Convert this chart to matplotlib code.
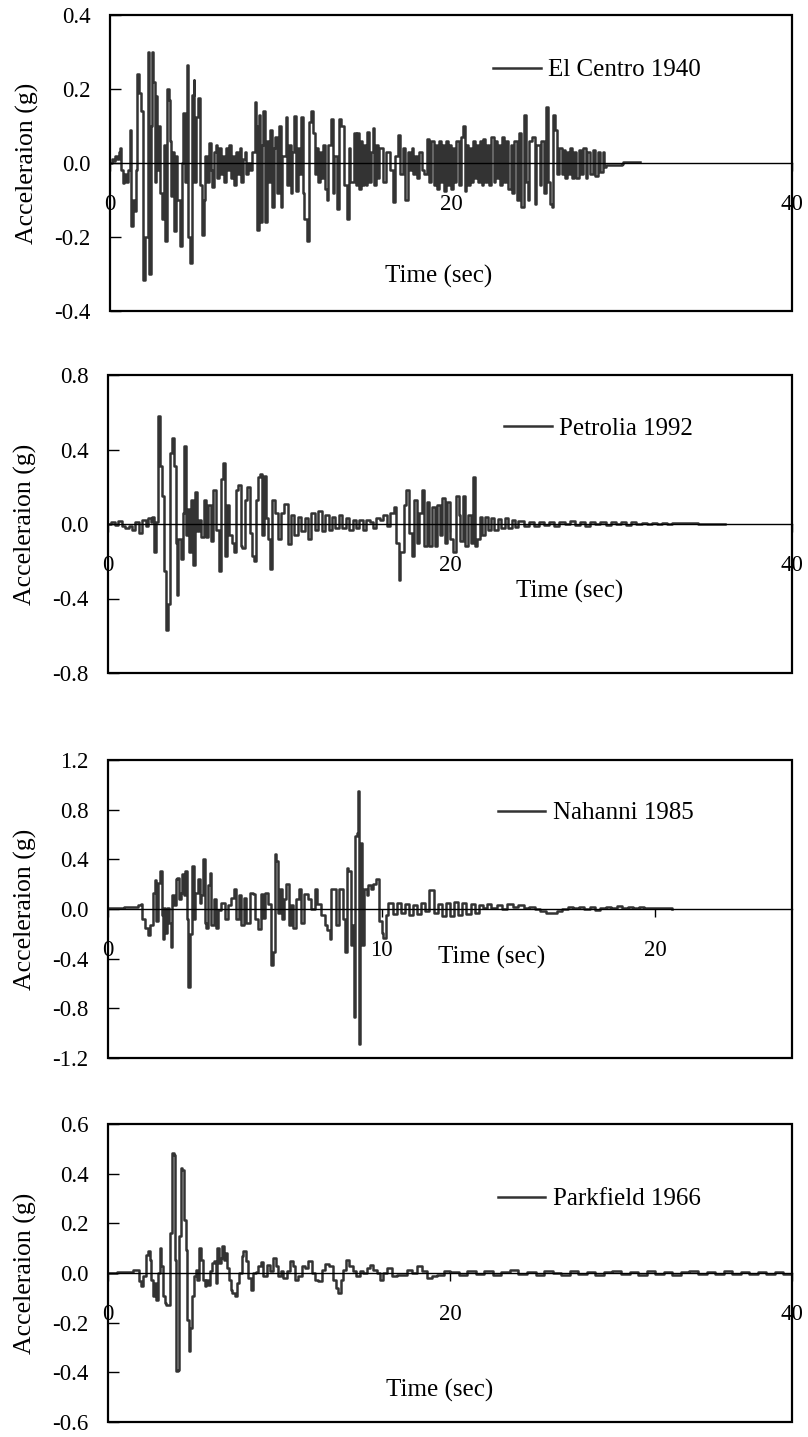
import matplotlib
matplotlib.use('Agg')
import matplotlib.pyplot as plt
from matplotlib.patches import Rectangle

plt.rcParams['font.family'] = ['Liberation Serif', 'DejaVu Serif']

# ---------------- data ----------------
elc_t = [
 0.0, 0.1, 0.2, 0.3, 0.4, 0.5, 0.57, 0.65, 0.75, 0.85,
 0.95, 1.05, 1.15, 1.25, 1.35, 1.45, 1.52, 1.6, 1.7, 1.8,
 1.95, 2.05, 2.2, 2.3, 2.38, 2.45, 2.55, 2.62, 2.7, 2.78,
 2.85, 2.95, 3.05, 3.15, 3.25, 3.35, 3.45, 3.5, 3.6, 3.65,
 3.75, 3.85, 3.95, 4.1, 4.2, 4.3, 4.4, 4.5, 4.6, 4.7,
 4.8, 4.9, 4.95, 5.05, 5.15, 5.25, 5.4, 5.5, 5.6, 5.7,
 5.8, 5.9, 6.0, 6.1, 6.2, 6.3, 6.4, 6.5, 6.6, 6.7,
 6.8, 6.9, 7.0, 7.1, 7.2, 7.3, 7.4, 7.5, 7.6, 7.7,
 7.8, 7.9, 8.0, 8.1, 8.2, 8.3, 8.48, 8.55, 8.65, 8.72,
 8.8, 8.9, 9.0, 9.1, 9.2, 9.3, 9.4, 9.5, 9.6, 9.7,
 9.8, 9.9, 10.0, 10.1, 10.3, 10.4, 10.5, 10.6, 10.7, 10.8,
 10.9, 11.0, 11.1, 11.2, 11.3, 11.4, 11.55, 11.65, 11.8, 11.9,
 12.0, 12.1, 12.2, 12.3, 12.4, 12.5, 12.6, 12.7, 12.8, 12.95,
 13.05, 13.15, 13.3, 13.45, 13.55, 13.7, 13.9, 14.0, 14.1, 14.3,
 14.4, 14.5, 14.6, 14.7, 14.8, 14.9, 15.0, 15.1, 15.2, 15.3,
 15.4, 15.5, 15.6, 15.7, 15.8, 16.0, 16.2, 16.4, 16.6, 16.7,
 16.9, 17.0, 17.2, 17.3, 17.5, 17.6, 17.7, 17.8, 17.9, 18.0,
 18.1, 18.3, 18.4, 18.57, 18.7, 18.85, 19.0, 19.1, 19.2, 19.3,
 19.4, 19.5, 19.6, 19.7, 19.8, 19.9, 20.0, 20.1, 20.2, 20.3,
 20.45, 20.6, 20.7, 20.8, 20.9, 21.0, 21.1, 21.2, 21.3, 21.4,
 21.5, 21.6, 21.7, 21.8, 21.9, 22.0, 22.1, 22.2, 22.35, 22.5,
 22.6, 22.7, 22.8, 22.9, 23.0, 23.1, 23.2, 23.35, 23.5, 23.6,
 23.7, 23.85, 24.0, 24.1, 24.3, 24.4, 24.5, 24.6, 24.75, 24.9,
 25.0, 25.2, 25.3, 25.45, 25.6, 25.7, 25.8, 25.9, 26.0, 26.1,
 26.2, 26.35, 26.5, 26.6, 26.7, 26.8, 26.9, 27.0, 27.1, 27.2,
 27.35, 27.5, 27.6, 27.75, 27.9, 28.0, 28.15, 28.3, 28.45, 28.6,
 28.75, 28.9, 29.0, 29.1, 30.0, 30.1, 31.1]
elc_a = [
 0.0, 0.01, 0.005, 0.02, 0.01, 0.03, 0.04, -0.02, -0.055, -0.03,
 -0.05, -0.02, 0.09, -0.17, -0.10, -0.13, -0.02, 0.24, 0.19, 0.14,
 -0.315, -0.2, 0.30, -0.30, 0.10, 0.30, 0.22, -0.05, 0.18, -0.02,
 0.10, -0.08, -0.15, 0.05, -0.21, 0.20, 0.17, 0.06, -0.09, 0.03,
 -0.185, 0.02, -0.10, -0.225, 0.0, 0.135, -0.05, 0.265, -0.2, -0.27,
 0.185, 0.225, -0.05, 0.125, 0.175, -0.06, -0.195, -0.1, 0.02, -0.05,
 0.055, -0.02, -0.065, 0.03, 0.05, -0.04, 0.04, -0.03, 0.02, -0.05,
 0.04, -0.02, 0.05, -0.04, 0.02, -0.06, 0.03, -0.03, 0.04, -0.05,
 0.01, 0.03, -0.03, 0.0, -0.02, 0.03, 0.165, 0.10, -0.18, 0.13,
 -0.16, 0.05, 0.14, -0.16, 0.06, -0.05, 0.09, -0.12, 0.04, 0.07,
 -0.08, 0.10, -0.12, 0.02, 0.125, -0.06, 0.05, -0.08, 0.03, 0.126,
 -0.075, 0.04, -0.03, 0.125, -0.08, -0.15, -0.21, 0.11, 0.14, 0.08,
 -0.03, 0.04, -0.05, 0.03, -0.04, 0.05, -0.07, -0.10, 0.05, 0.12,
 -0.08, 0.02, -0.125, 0.12, 0.10, -0.06, -0.15, 0.04, -0.05, 0.08,
 -0.06, 0.08, -0.07, 0.06, -0.06, 0.05, -0.06, 0.085, -0.05, 0.03,
 0.095, -0.06, 0.05, -0.04, 0.04, -0.05, 0.03, -0.02, -0.105, 0.02,
 0.075, -0.03, 0.04, -0.1, 0.03, -0.02, 0.04, -0.03, 0.02, -0.04,
 0.03, -0.02, -0.03, 0.065, -0.05, 0.06, -0.06, 0.05, -0.07, 0.06,
 -0.05, 0.05, -0.075, 0.06, -0.06, 0.05, -0.07, 0.04, -0.05, 0.06,
 -0.06, 0.07, 0.10, -0.075, 0.05, -0.06, 0.04, -0.05, 0.06, -0.04,
 0.05, -0.05, 0.06, -0.06, 0.065, -0.05, 0.05, -0.06, 0.07, -0.05,
 0.06, -0.04, 0.05, -0.06, 0.07, -0.05, 0.06, -0.07, 0.05, -0.08,
 0.06, -0.10, 0.08, -0.12, 0.13, -0.05, -0.10, 0.06, 0.07, -0.11,
 0.05, -0.06, 0.06, -0.08, 0.15, -0.05, -0.11, -0.12, 0.13, 0.09,
 -0.03, 0.04, -0.03, 0.035, -0.04, 0.03, -0.03, 0.04, -0.04, 0.03,
 -0.04, 0.035, -0.03, 0.04, -0.04, 0.03, -0.03, 0.035, -0.035, 0.03,
 -0.025, 0.03, -0.01, -0.005, -0.004, 0.002, 0.002]

pet_t = [
 0.0, 0.2, 0.4, 0.6, 0.8, 1.0, 1.2, 1.4, 1.6, 1.8,
 2.0, 2.2, 2.35, 2.5, 2.6, 2.7, 2.8, 2.95, 3.05, 3.15,
 3.27, 3.41, 3.5, 3.6, 3.65, 3.75, 3.85, 3.95, 4.03, 4.12,
 4.25, 4.38, 4.47, 4.55, 4.65, 4.75, 4.85, 4.95, 5.1, 5.2,
 5.3, 5.45, 5.6, 5.75, 5.85, 6.05, 6.15, 6.3, 6.47, 6.58,
 6.73, 6.85, 6.97, 7.1, 7.25, 7.36, 7.5, 7.6, 7.75, 7.85,
 8.0, 8.15, 8.3, 8.42, 8.54, 8.65, 8.76, 8.9, 9.0, 9.12,
 9.25, 9.38, 9.5, 9.58, 9.75, 9.95, 10.1, 10.3, 10.5, 10.7,
 10.9, 11.1, 11.3, 11.5, 11.7, 11.9, 12.1, 12.3, 12.5, 12.7,
 12.9, 13.1, 13.3, 13.5, 13.7, 13.9, 14.1, 14.3, 14.5, 14.7,
 14.9, 15.1, 15.3, 15.5, 15.7, 15.9, 16.1, 16.3, 16.5, 16.7,
 16.85, 17.0, 17.1, 17.3, 17.45, 17.6, 17.75, 17.9, 18.05, 18.2,
 18.35, 18.5, 18.65, 18.8, 18.95, 19.1, 19.25, 19.4, 19.55, 19.7,
 19.85, 20.0, 20.2, 20.35, 20.5, 20.6, 20.75, 20.9, 21.05, 21.2,
 21.35, 21.45, 21.6, 21.75, 21.9, 22.05, 22.2, 22.4, 22.6, 22.8,
 23.0, 23.2, 23.4, 23.6, 23.8, 24.0, 24.3, 24.6, 24.9, 25.2,
 25.5, 25.8, 26.1, 26.4, 26.7, 27.0, 27.3, 27.6, 27.9, 28.2,
 28.5, 28.8, 29.1, 29.4, 29.7, 30.0, 30.3, 30.6, 30.9, 31.2,
 31.5, 31.8, 32.1, 32.4, 32.7, 33.0, 33.3, 33.6, 34.0, 34.5,
 35.0, 35.5, 36.1]
pet_a = [
 0.0, 0.01, -0.005, 0.015, -0.01, -0.02, -0.01, -0.03, 0.01, -0.05,
 0.02, -0.01, 0.03, 0.01, 0.04, -0.15, 0.01, 0.58, 0.31, 0.15,
 -0.25, -0.57, -0.43, 0.08, 0.38, 0.46, 0.31, -0.1, -0.38, -0.08,
 -0.19, 0.06, 0.42, -0.06, 0.08, -0.15, 0.13, -0.22, 0.17, -0.04,
 0.02, -0.07, 0.13, -0.07, 0.1, -0.09, 0.18, -0.03, -0.25, 0.24,
 0.33, -0.17, 0.1, -0.06, -0.1, -0.15, 0.18, 0.21, -0.12, -0.13,
 0.13, 0.2, -0.05, -0.17, -0.2, 0.13, 0.25, 0.27, -0.06, 0.26,
 0.03, -0.08, -0.24, 0.13, 0.06, -0.08, 0.06, 0.11, -0.11, 0.05,
 -0.06, 0.04, -0.04, 0.03, -0.08, 0.06, -0.03, 0.07, -0.04, 0.05,
 -0.03, 0.04, -0.02, 0.05, -0.02, 0.03, -0.03, 0.02, -0.02, 0.02,
 -0.03, 0.02, 0.01, -0.02, 0.03, 0.02, 0.05, -0.01, 0.06, 0.09,
 -0.1, -0.3, -0.15, 0.1, 0.185, -0.05, -0.17, 0.13, -0.1, 0.06,
 0.185, -0.12, 0.12, -0.12, 0.09, -0.12, 0.1, -0.06, 0.14, -0.1,
 0.12, -0.08, -0.15, 0.15, 0.05, -0.09, 0.15, -0.12, 0.05, -0.1,
 0.255, -0.12, -0.08, 0.04, -0.06, 0.04, -0.03, 0.03, -0.03, 0.025,
 -0.02, 0.03, -0.02, 0.02, -0.015, 0.015, -0.01, 0.01, -0.01, 0.01,
 -0.005, 0.01, -0.01, 0.01, 0.0, 0.015, -0.005, 0.01, -0.01, 0.012,
 0.0, 0.01, -0.005, 0.012, 0.0, 0.01, -0.005, 0.01, 0.0, 0.008,
 0.0, 0.006, 0.002, 0.006, 0.002, 0.005, 0.003, 0.005, 0.003, 0.002,
 0.002, 0.001, 0.001]

nah_t = [
 0.0, 0.3, 0.6, 0.9, 1.1, 1.2, 1.25, 1.35, 1.45, 1.55,
 1.64, 1.7, 1.76, 1.82, 1.9, 1.96, 2.0, 2.05, 2.1, 2.17,
 2.23, 2.29, 2.35, 2.41, 2.47, 2.53, 2.6, 2.65, 2.7, 2.76,
 2.82, 2.88, 2.94, 3.0, 3.06, 3.14, 3.19, 3.29, 3.36, 3.41,
 3.47, 3.53, 3.6, 3.66, 3.72, 3.78, 3.87, 3.96, 4.02, 4.14,
 4.26, 4.38, 4.5, 4.6, 4.69, 4.78, 4.87, 4.97, 5.06, 5.18,
 5.3, 5.38, 5.48, 5.58, 5.66, 5.75, 5.85, 5.94, 6.02, 6.09,
 6.15, 6.21, 6.27, 6.36, 6.45, 6.51, 6.61, 6.7, 6.76, 6.88,
 6.98, 7.06, 7.18, 7.3, 7.43, 7.55, 7.65, 7.79, 7.92, 8.02,
 8.1, 8.16, 8.26, 8.34, 8.44, 8.53, 8.59, 8.65, 8.72, 8.79,
 8.87, 8.93, 8.98, 9.04, 9.09, 9.13, 9.16, 9.2, 9.24, 9.3,
 9.36, 9.45, 9.51, 9.6, 9.7, 9.8, 9.9, 10.0, 10.05, 10.15,
 10.25, 10.4, 10.55, 10.7, 10.85, 11.0, 11.15, 11.3, 11.45, 11.6,
 11.75, 11.9, 12.05, 12.2, 12.35, 12.5, 12.65, 12.8, 12.95, 13.1,
 13.25, 13.4, 13.55, 13.7, 13.85, 14.0, 14.2, 14.4, 14.6, 14.8,
 15.0, 15.2, 15.4, 15.6, 15.8, 16.0, 16.2, 16.4, 16.6, 16.8,
 17.0, 17.2, 17.4, 17.6, 17.8, 18.0, 18.2, 18.4, 18.6, 18.8,
 19.0, 19.2, 19.4, 19.6, 19.8, 20.0, 20.3, 20.6]
nah_a = [
 0.005, 0.01, 0.015, 0.02, 0.035, 0.04, -0.08, -0.15, -0.21, -0.13,
 0.13, 0.23, -0.1, 0.21, 0.31, -0.05, -0.24, 0.01, -0.19, 0.01,
 -0.11, -0.31, 0.11, 0.03, 0.24, 0.25, 0.08, 0.13, 0.28, 0.11,
 0.31, -0.08, -0.63, -0.2, 0.35, -0.08, 0.13, 0.24, 0.05, 0.11,
 0.4, -0.11, -0.15, 0.19, 0.29, -0.13, 0.08, -0.15, -0.01, 0.05,
 -0.08, 0.03, 0.09, 0.16, -0.08, 0.11, -0.13, 0.09, -0.11, 0.13,
 0.12, -0.08, -0.16, 0.12, -0.07, 0.13, 0.04, -0.45, -0.35, 0.44,
 0.39, -0.03, 0.16, -0.08, 0.08, 0.2, -0.13, 0.03, -0.15, 0.08,
 0.16, -0.11, 0.12, 0.08, 0.0, 0.16, 0.04, -0.05, -0.13, -0.17,
 -0.24, 0.16, 0.16, -0.13, 0.16, 0.16, -0.08, -0.35, 0.33, 0.31,
 -0.29, -0.13, -0.87, 0.59, 0.61, 0.95, -1.09, -0.07, 0.53, -0.29,
 0.16, 0.11, 0.19, 0.16, 0.2, 0.24, -0.1, -0.19, -0.23, -0.05,
 0.05, -0.04, 0.05, -0.03, 0.04, -0.05, 0.03, -0.04, 0.05, -0.02,
 0.15, -0.03, 0.04, -0.06, 0.05, -0.06, 0.06, -0.05, 0.05, -0.04,
 0.04, -0.03, 0.03, 0.01, 0.04, 0.01, 0.03, 0.0, 0.04, 0.02,
 0.03, 0.01, 0.02, 0.0, -0.02, -0.03, -0.035, -0.02, 0.0, 0.015,
 0.005, 0.02, 0.0, 0.015, -0.005, 0.01, 0.02, 0.01, 0.025, 0.01,
 0.02, 0.005, 0.015, 0.01, 0.005, 0.01, 0.005, 0.003]

pk_t = [
 0.0, 0.5, 1.0, 1.47, 1.82, 1.95, 2.05, 2.21, 2.34, 2.44,
 2.54, 2.64, 2.73, 2.83, 2.93, 3.03, 3.12, 3.22, 3.32, 3.42,
 3.61, 3.65, 3.73, 3.85, 3.92, 4.0, 4.1, 4.16, 4.24, 4.35,
 4.43, 4.55, 4.63, 4.72, 4.82, 4.9, 5.02, 5.12, 5.21, 5.31,
 5.41, 5.53, 5.66, 5.76, 5.86, 5.95, 6.09, 6.19, 6.29, 6.38,
 6.48, 6.58, 6.66, 6.77, 6.87, 6.97, 7.09, 7.18, 7.28, 7.42,
 7.52, 7.67, 7.81, 7.91, 8.06, 8.2, 8.34, 8.49, 8.65, 8.78,
 8.92, 9.08, 9.27, 9.47, 9.66, 9.82, 9.96, 10.09, 10.25, 10.44,
 10.64, 10.79, 10.93, 11.13, 11.32, 11.52, 11.71, 11.91, 12.1, 12.3,
 12.49, 12.69, 12.94, 13.18, 13.33, 13.47, 13.6, 13.76, 13.92, 14.11,
 14.31, 14.5, 14.74, 14.93, 15.13, 15.32, 15.52, 15.71, 15.91, 16.1,
 16.3, 16.59, 16.88, 17.18, 17.47, 17.76, 18.06, 18.35, 18.64, 18.93,
 19.23, 19.62, 20.0, 20.5, 21.0, 21.5, 22.0, 22.5, 23.0, 23.5,
 24.0, 24.5, 25.0, 25.5, 26.0, 26.5, 27.0, 27.5, 28.0, 28.5,
 29.0, 29.5, 30.0, 30.5, 31.0, 31.5, 32.0, 32.5, 33.0, 33.5,
 34.0, 34.5, 35.0, 35.5, 36.0, 36.5, 37.0, 37.5, 38.0, 38.5,
 39.0, 39.5, 40.0]
pk_a = [
 0.0, 0.003, 0.005, 0.013, -0.034, -0.054, -0.013, 0.074, 0.087, 0.054,
 -0.027, -0.094, -0.04, -0.107, 0.0, 0.1, 0.027, -0.094, -0.12, -0.128,
 -0.125, 0.161, 0.483, 0.477, 0.054, -0.396, -0.389, 0.148, 0.423, 0.416,
 0.215, 0.094, -0.188, -0.315, -0.221, -0.094, -0.013, 0.013, -0.027, 0.1,
 0.054, -0.027, -0.054, -0.027, -0.047, 0.007, 0.04, 0.047, -0.04, 0.1,
 0.04, 0.06, 0.107, 0.054, 0.08, 0.02, -0.027, -0.067, -0.08, -0.094,
 -0.04, 0.0, 0.067, 0.087, 0.047, -0.02, -0.067, 0.0, 0.005, 0.027,
 0.043, -0.013, 0.034, 0.007, 0.06, 0.027, -0.013, 0.007, -0.02, 0.007,
 0.047, 0.027, -0.027, -0.013, 0.027, 0.02, 0.047, 0.0, -0.027, -0.034,
 0.013, 0.036, 0.027, -0.027, -0.06, -0.08, -0.027, 0.013, 0.054, 0.027,
 0.007, -0.013, 0.007, 0.0, 0.02, 0.034, 0.013, 0.0, -0.027, 0.0,
 0.02, -0.013, -0.007, -0.007, 0.013, 0.0, 0.027, 0.007, -0.02, -0.013,
 -0.007, 0.007, 0.005, -0.01, 0.008, -0.005, 0.01, -0.008, 0.005, 0.012,
 -0.006, 0.004, -0.01, 0.008, 0.002, -0.008, 0.01, -0.004, 0.006, -0.01,
 0.004, 0.008, -0.006, 0.005, -0.008, 0.01, -0.004, 0.006, -0.008, 0.004,
 0.008, -0.006, 0.005, -0.004, 0.008, -0.006, 0.004, -0.005, 0.006, -0.004,
 0.005, -0.003, 0.0]

labels = ['El Centro 1940', 'Petrolia 1992', 'Nahanni 1985', 'Parkfield 1966']
y_ticks = [[-0.4, -0.2, 0.0, 0.2, 0.4],
           [-0.8, -0.4, 0.0, 0.4, 0.8],
           [-1.2, -0.8, -0.4, 0.0, 0.4, 0.8, 1.2],
           [-0.6, -0.4, -0.2, 0.0, 0.2, 0.4, 0.6]]
x_ticks = [[0, 20, 40], [0, 20, 40], [0, 10, 20], [0, 20, 40]]
x_max = [40, 40, 25, 40]
series = [(elc_t, elc_a), (pet_t, pet_a), (nah_t, nah_a), (pk_t, pk_a)]

# ---------------- layout (pixels) ----------------
W, H = 808, 1437
boxes = [(110, 792, 15, 311), (108, 792, 375, 673),
         (108, 792, 760, 1058), (108, 792, 1124, 1422)]
legend_pos = [(0.562, 0.814), (0.579, 0.819), (0.570, 0.822), (0.570, 0.748)]
xlabel_pos = [(0.482, 0.118), (0.675, 0.272), (0.561, 0.336), (0.485, 0.107)]

fig = plt.figure(figsize=(W / 100, H / 100), dpi=100)

for i in range(4):
    l, r, t, b = boxes[i]
    ax = fig.add_axes([l / W, 1 - b / H, (r - l) / W, (b - t) / H])
    tt, aa = series[i]
    ax.plot(tt, aa, color='#333333', lw=1.8, drawstyle='steps-post',
            label=labels[i])
    ax.set_xlim(0, x_max[i])
    ax.set_ylim(y_ticks[i][0], y_ticks[i][-1])

    for s in ['top', 'right', 'left']:
        ax.spines[s].set_visible(False)
    ax.spines['bottom'].set_position(('data', 0))
    ax.spines['bottom'].set_linewidth(1.0)
    ax.spines['bottom'].set_color('black')
    ax.add_patch(Rectangle((0, 0), 1, 1, transform=ax.transAxes, fill=False,
                           lw=1.6, ec='black', clip_on=False, zorder=5))

    ax.set_yticks(y_ticks[i])
    ax.set_yticklabels([f"{v:.1f}" for v in y_ticks[i]])
    ax.set_xticks(x_ticks[i])
    ax.set_xticklabels([str(v) for v in x_ticks[i]])
    ax.tick_params(axis='y', direction='in', length=8, width=1, pad=14,
                   labelsize=16.5)
    ax.tick_params(axis='x', direction='out', length=6, width=1, pad=16,
                   labelsize=16.5)

    ax.text(-0.121, 0.5, 'Acceleraion (g)', transform=ax.transAxes,
            rotation=90, ha='center', va='center', fontsize=18.5)
    ax.text(xlabel_pos[i][0], xlabel_pos[i][1], 'Time (sec)',
            transform=ax.transAxes, ha='center', va='center', fontsize=18)
    ax.legend(loc='center left', bbox_to_anchor=legend_pos[i], frameon=False,
              fontsize=18, handlelength=1.9, handletextpad=0.3,
              borderpad=0, borderaxespad=0)

fig.savefig('out.png', dpi=100)
